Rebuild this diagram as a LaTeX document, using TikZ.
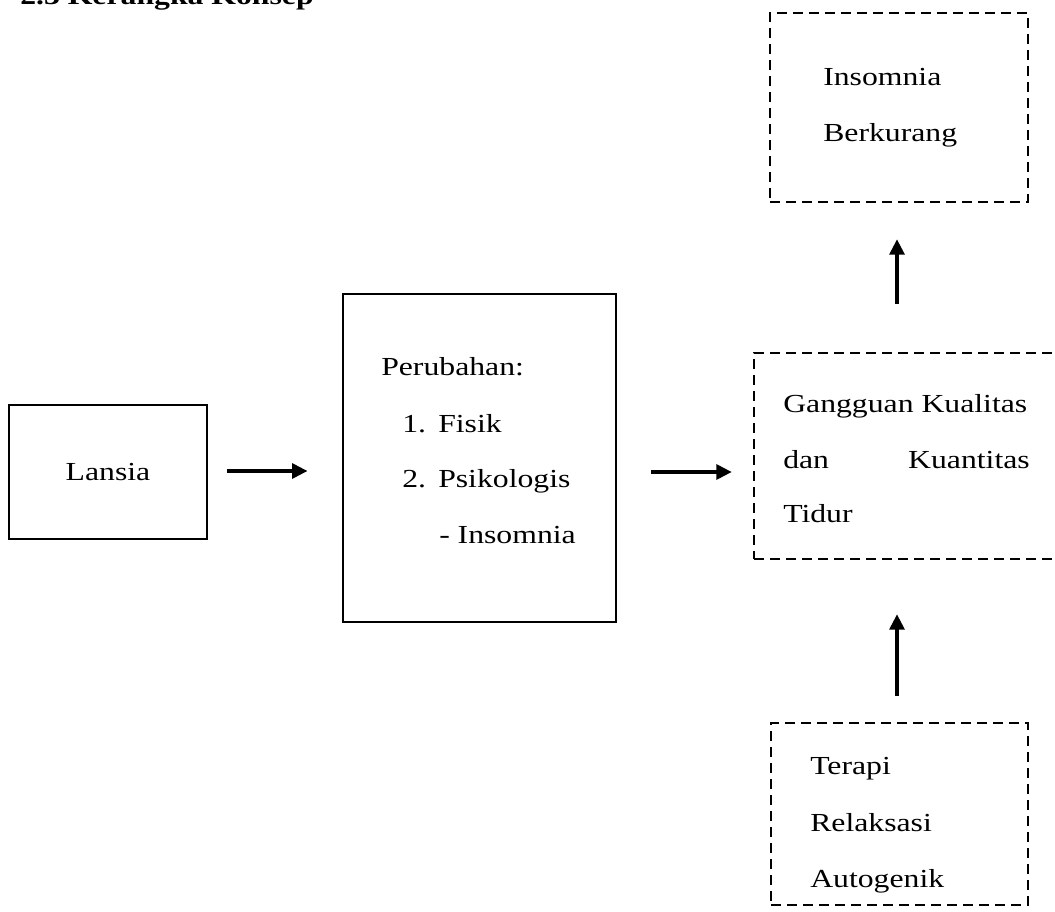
\documentclass[tikz,border=0pt]{standalone}
\usepackage{fontspec}
\setmainfont{Liberation Serif}[FakeStretch=1.22]
\usetikzlibrary{arrows.meta,fit}
\begin{document}
\begin{tikzpicture}[x=0.75pt,y=-0.75pt,
  solidbox/.style={draw, line width=2.2pt, inner sep=0pt},
  dashbox/.style={draw, line width=1.8pt, dash pattern=on 7.5pt off 4.5pt, inner sep=0pt},
  txt/.style={inner sep=0pt, anchor=base west, font=\fontsize{19.5}{23}\selectfont},
  arr/.style={line width=2.7pt, -{Triangle[length=11.5pt,width=11pt]}}
]
\useasboundingbox (0,0) rectangle (1055,912);
% title (partly cut at top, as in the reference)
\node[txt, font=\fontsize{19.5}{23}\selectfont\bfseries] (title) at (20,5) {2.3 Kerangka Konsep};
% box corners
\coordinate (la1) at (9,405);   \coordinate (la2) at (207,539);
\coordinate (pe1) at (343,294); \coordinate (pe2) at (616,622);
\coordinate (ga1) at (754,353); \coordinate (ga2) at (1064,559);
\coordinate (in1) at (770,13);  \coordinate (in2) at (1028,202);
\coordinate (te1) at (771,723); \coordinate (te2) at (1028,905);
\node[solidbox, fit=(la1)(la2)] (lansia) {};
\node[solidbox, fit=(pe1)(pe2)] (perubahan) {};
\node[dashbox, fit=(ga1)(ga2)] (gangguan) {};
\node[dashbox, fit=(in1)(in2)] (insomnia) {};
\node[dashbox, fit=(te1)(te2)] (terapi) {};
% texts
\node[txt, anchor=base] (tla) at (108,480) {Lansia};
\node[txt] (tp0) at (381,375) {Perubahan:};
\node[txt] (tp1n) at (402,432) {1.};
\node[txt] (tp1) at (438,432) {Fisik};
\node[txt] (tp2n) at (402,487) {2.};
\node[txt] (tp2) at (438,487) {Psikologis};
\node[txt] (tp3) at (439,543) {- Insomnia};
\node[txt] (tg1) at (783,412) {Gangguan Kualitas};
\node[txt] (tg2a) at (783,468) {dan};
\node[txt, anchor=base east] (tg2b) at (1030,468) {Kuantitas};
\node[txt] (tg3) at (783,522) {Tidur};
\node[txt] (ti1) at (823,86) {Insomnia};
\node[txt] (ti2) at (823,142) {Berkurang};
\node[txt] (tt1) at (810,774) {Terapi};
\node[txt] (tt2) at (810,831) {Relaksasi};
\node[txt] (tt3) at (810,887) {Autogenik};
% rows / columns for connectors
\coordinate (row1) at (0,471);
\coordinate (row2) at (0,472);
\coordinate (col) at (897,0);
\draw[arr, shorten <=14.25pt, shorten >=25.5pt] (lansia.east |- row1) -- (perubahan.west |- row1);
\draw[arr, shorten <=25.5pt, shorten >=15.75pt] (perubahan.east |- row2) -- (gangguan.west |- row2);
\draw[arr, shorten <=36pt, shorten >=27pt] (gangguan.north -| col) -- (insomnia.south -| col);
\draw[arr, shorten <=19.5pt, shorten >=40.5pt] (terapi.north -| col) -- (gangguan.south -| col);
\end{tikzpicture}
\end{document}
